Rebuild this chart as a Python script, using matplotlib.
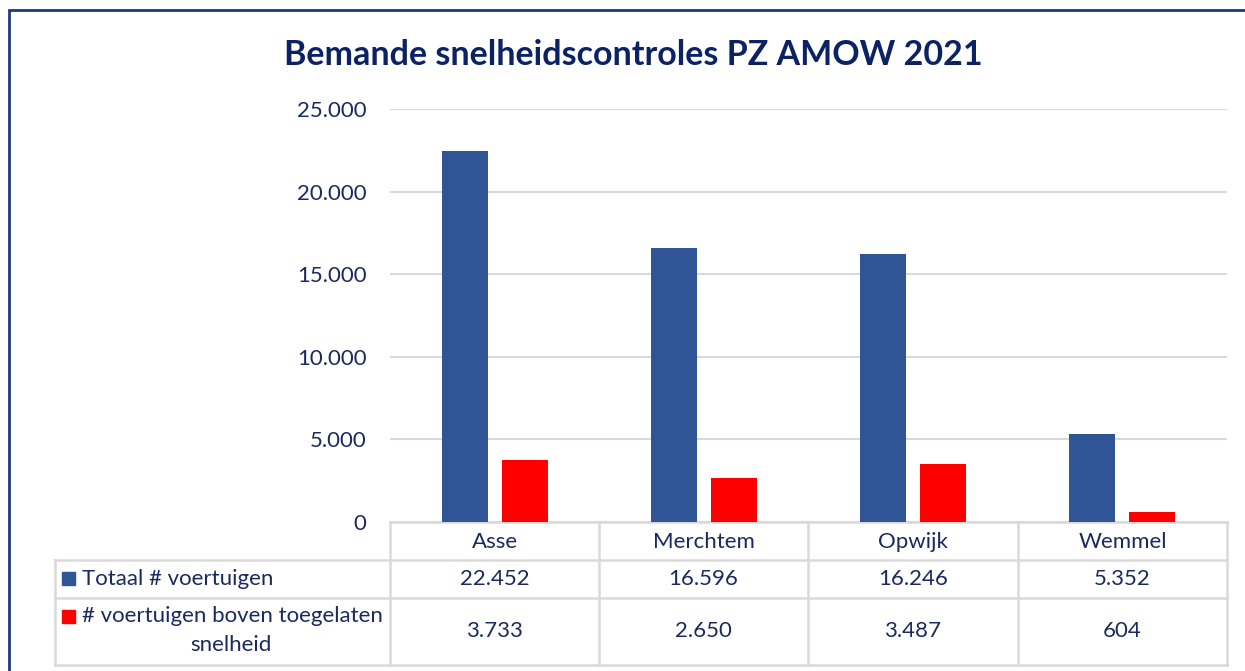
import matplotlib.pyplot as plt
from matplotlib.patches import Rectangle

plt.rcParams['font.family'] = ['Lato', 'DejaVu Sans']

# data
gemeenten = ['Asse', 'Merchtem', 'Opwijk', 'Wemmel']
totaal = [22452, 16596, 16246, 5352]
te_snel = [3733, 2650, 3487, 604]
reeksen = ['Totaal # voertuigen', '# voertuigen boven toegelaten\nsnelheid']
kleuren = ['#2F5597', '#FF0000']
yticks = [0, 5000, 10000, 15000, 20000, 25000]

W, H = 1245, 671
tekst = '#1B2A5E'
lijn = '#D9D9D9'
fs = 16


def fmt(v):
    return f'{v:,}'.replace(',', '.')


fig = plt.figure(figsize=(W / 100, H / 100), dpi=100)

# overlay in pixel coordinates for frame, title and data table
ov = fig.add_axes([0, 0, 1, 1])
ov.set_xlim(0, W)
ov.set_ylim(H, 0)
ov.axis('off')

# main chart
x0, x1, ytop, ybot = 390, 1227, 109, 522
ax = fig.add_axes([x0 / W, 1 - ybot / H, (x1 - x0) / W, (ybot - ytop) / H])
pos = range(len(gemeenten))
bw = 0.22
ax.bar([p - 0.143 for p in pos], totaal, bw, color=kleuren[0], zorder=3)
ax.bar([p + 0.143 for p in pos], te_snel, bw, color=kleuren[1], zorder=3)
ax.set_xlim(-0.5, len(gemeenten) - 0.5)
ax.set_ylim(0, 25000)
ax.set_yticks(yticks)
ax.set_yticklabels([fmt(t) for t in yticks], fontsize=fs, color=tekst)
ax.tick_params(axis='y', length=0, pad=17)
ax.set_xticks([])
ax.grid(axis='y', color=lijn, linewidth=1.5, zorder=0)
for s in ax.spines.values():
    s.set_visible(False)

# frame
ov.plot([9, 9, W], [H, 10, 10], color='#1F3A7A', linewidth=2, solid_joinstyle='miter')

# title
ov.text(633, 55, 'Bemande snelheidscontroles PZ AMOW 2021', ha='center', va='center',
        fontsize=24.5, fontweight='bold', color='#0B2265')

# data table
colx = [390, 599, 808, 1018, 1227]
rows = [522, 560, 598, 665]
lw = 1.8
ov.plot([390, 1227], [522, 522], color=lijn, lw=lw)
for y in rows[1:]:
    ov.plot([55, 1227], [y, y], color=lijn, lw=lw)
ov.plot([55, 55], [560, 665], color=lijn, lw=lw)
for x in colx:
    ov.plot([x, x], [522, 665], color=lijn, lw=lw)

for i, g in enumerate(gemeenten):
    cx = (colx[i] + colx[i + 1]) / 2
    ov.text(cx, 542, g, ha='center', va='center', fontsize=fs, color=tekst)
    ov.text(cx, 579, fmt(totaal[i]), ha='center', va='center', fontsize=fs, color=tekst)
    ov.text(cx, 631, fmt(te_snel[i]), ha='center', va='center', fontsize=fs, color=tekst)

# legend keys in the table
ov.add_patch(Rectangle((62, 572), 13, 13, color=kleuren[0]))
ov.text(82, 579, reeksen[0], ha='left', va='center', fontsize=fs, color=tekst)
ov.add_patch(Rectangle((62, 610), 13, 13, color=kleuren[1]))
ov.text(82, 616, reeksen[1].split('\n')[0], ha='left', va='center', fontsize=fs, color=tekst)
ov.text(231, 645, reeksen[1].split('\n')[1], ha='center', va='center', fontsize=fs, color=tekst)

fig.savefig('out.png', dpi=100)
